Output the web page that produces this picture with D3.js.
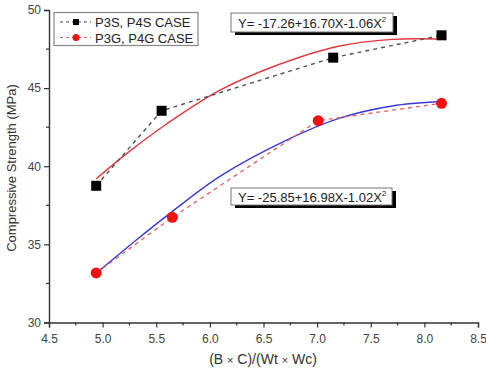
<!DOCTYPE html>
<html>
<head>
<meta charset="utf-8">
<script src="https://cdn.jsdelivr.net/npm/d3@7"></script>
<style>
  body { margin: 0; background: #fff; }
  svg { font-family: "Liberation Sans", Arial, sans-serif; }
</style>
</head>
<body>
<svg id="chart" width="486" height="373"></svg>
<script>
// measured points
var sX = [4.94, 5.55, 7.15, 8.16];
var sY = [38.75, 43.55, 46.95, 48.38];
var gX = [4.94, 5.65, 7.01, 8.16];
var gY = [33.17, 36.73, 42.92, 44.03];

// fitted curves
var fitSX = [4.94, 5.25, 5.6, 6.09, 6.6, 7.2, 7.7, 8.15];
var fitSY = [39.2, 40.95, 42.72, 44.85, 46.4, 47.68, 48.12, 48.14];
var fitGX = [4.94, 5.3, 5.63, 6.09, 6.72, 7.21, 7.7, 8.15];
var fitGY = [33.15, 35.2, 37.0, 39.34, 41.69, 43.08, 43.86, 44.14];

var xTicks = [4.5, 5.0, 5.5, 6.0, 6.5, 7.0, 7.5, 8.0, 8.5];
var yTicks = [30, 35, 40, 45, 50];
var legendLabels = ["P3S, P4S CASE", "P3G, P4G CASE"];
var eqS = ["Y= -17.26+16.70X-1.06X", "2"];
var eqG = ["Y= -25.85+16.98X-1.02X", "2"];

var svg = d3.select("#chart");
var axisColor = "#333";

var x = d3.scaleLinear().domain([4.5, 8.5]).range([49, 478]);
var y = d3.scaleLinear().domain([30, 50]).range([322.5, 10]);

// axes
var xAxis = svg.append("g").attr("transform", "translate(0,322.5)")
  .call(d3.axisBottom(x).tickValues(xTicks).tickFormat(d3.format(".1f")).tickSizeOuter(0).tickSize(5));
var yAxis = svg.append("g").attr("transform", "translate(49,0)")
  .call(d3.axisLeft(y).tickValues(yTicks).tickSizeOuter(0).tickSize(5));

// minor ticks
var xMinor = d3.range(4.75, 8.5, 0.5);
var yMinor = d3.range(32.5, 50, 5);
svg.append("g").selectAll("line").data(xMinor).enter().append("line")
  .attr("x1", d => x(d)).attr("x2", d => x(d))
  .attr("y1", 322.5).attr("y2", 325.5)
  .attr("stroke", axisColor).attr("stroke-width", 1.2);
svg.append("g").selectAll("line").data(yMinor).enter().append("line")
  .attr("x1", 49).attr("x2", 46)
  .attr("y1", d => y(d)).attr("y2", d => y(d))
  .attr("stroke", axisColor).attr("stroke-width", 1.2);

[xAxis, yAxis].forEach(function(g) {
  g.select(".domain").attr("stroke", axisColor).attr("stroke-width", 1.4);
  g.selectAll(".tick line").attr("stroke", axisColor).attr("stroke-width", 1.2);
  g.selectAll(".tick text").attr("fill", "#444").style("font-size", "12px")
    .style("font-family", "Liberation Sans, Arial, sans-serif");
});
xAxis.selectAll(".tick text").attr("dy", "1.05em");

// axis titles
svg.append("text")
  .attr("transform", "translate(16,168) rotate(-90)")
  .attr("text-anchor", "middle")
  .attr("fill", "#333")
  .style("font-size", "13px")
  .text("Compressive Strength (MPa)");
var xt = svg.append("text")
  .attr("x", 263).attr("y", 364)
  .attr("text-anchor", "middle")
  .attr("fill", "#333")
  .style("font-size", "14px");
xt.append("tspan").text("(B ");
xt.append("tspan").style("font-size", "11px").text("×");
xt.append("tspan").text(" C)/(Wt  ");
xt.append("tspan").style("font-size", "11px").text("×");
xt.append("tspan").text(" Wc)");

var line = d3.line().x(d => x(d[0])).y(d => y(d[1]));
var smooth = d3.line().curve(d3.curveCatmullRom).x(d => x(d[0])).y(d => y(d[1]));

var sPts = d3.zip(sX, sY), gPts = d3.zip(gX, gY);

// fit curves
svg.append("path").datum(d3.zip(fitSX, fitSY))
  .attr("d", smooth).attr("fill", "none").attr("stroke", "#e0393e").attr("stroke-width", 1.4);
svg.append("path").datum(d3.zip(fitGX, fitGY))
  .attr("d", smooth).attr("fill", "none").attr("stroke", "#3a3ad8").attr("stroke-width", 1.4);

// dashed connecting lines
svg.append("path").datum(sPts)
  .attr("d", line).attr("fill", "none").attr("stroke", "#555")
  .attr("stroke-width", 1.4).attr("stroke-dasharray", "4,4");
svg.append("path").datum(gPts)
  .attr("d", line).attr("fill", "none").attr("stroke", "#e2605a")
  .attr("stroke-width", 1.3).attr("stroke-dasharray", "4,4");

// markers
svg.append("g").selectAll("rect").data(sPts).enter().append("rect")
  .attr("x", d => x(d[0]) - 5).attr("y", d => y(d[1]) - 5)
  .attr("width", 10).attr("height", 10).attr("fill", "#000");
svg.append("g").selectAll("circle").data(gPts).enter().append("circle")
  .attr("cx", d => x(d[0])).attr("cy", d => y(d[1]))
  .attr("r", 5.5).attr("fill", "#f01010");

// legend
var lg = svg.append("g");
lg.append("rect").attr("x", 54).attr("y", 12.5).attr("width", 144).attr("height", 33)
  .attr("fill", "#fff").attr("stroke", "#888").attr("stroke-width", 1.2);
var legendStyles = [
  { color: "#444", mark: "square", fill: "#000" },
  { color: "#e2605a", mark: "circle", fill: "#f01010" }
];
legendLabels.forEach(function(lab, i) {
  var cy = 22 + i * 15.5;
  var st = legendStyles[i];
  lg.append("line").attr("x1", 60).attr("x2", 91).attr("y1", cy).attr("y2", cy)
    .attr("stroke", st.color).attr("stroke-width", 1.2).attr("stroke-dasharray", "3,3");
  if (st.mark === "square") {
    lg.append("rect").attr("x", 73).attr("y", cy - 3).attr("width", 6).attr("height", 6).attr("fill", st.fill);
  } else {
    lg.append("circle").attr("cx", 76).attr("cy", cy).attr("r", 3.5).attr("fill", st.fill);
  }
  lg.append("text").attr("x", 95).attr("y", cy + 5).attr("fill", "#222")
    .style("font-size", "13px").text(lab);
});

// equation boxes
function eqBox(x0, y0, w, h, parts) {
  var g = svg.append("g");
  g.append("rect").attr("x", x0 + 4).attr("y", y0 + 3).attr("width", w).attr("height", h).attr("fill", "#000");
  g.append("rect").attr("x", x0).attr("y", y0).attr("width", w).attr("height", h)
    .attr("fill", "#fff").attr("stroke", "#777").attr("stroke-width", 1);
  var t = g.append("text").attr("x", x0 + 7).attr("y", y0 + h / 2 + 5)
    .attr("fill", "#222").style("font-size", "13px");
  t.append("tspan").text(parts[0]);
  t.append("tspan").attr("dy", -6).style("font-size", "8px").text(parts[1]);
}
eqBox(231, 13, 162, 19, eqS);
eqBox(231, 188, 161, 17, eqG);
</script>
</body>
</html>
